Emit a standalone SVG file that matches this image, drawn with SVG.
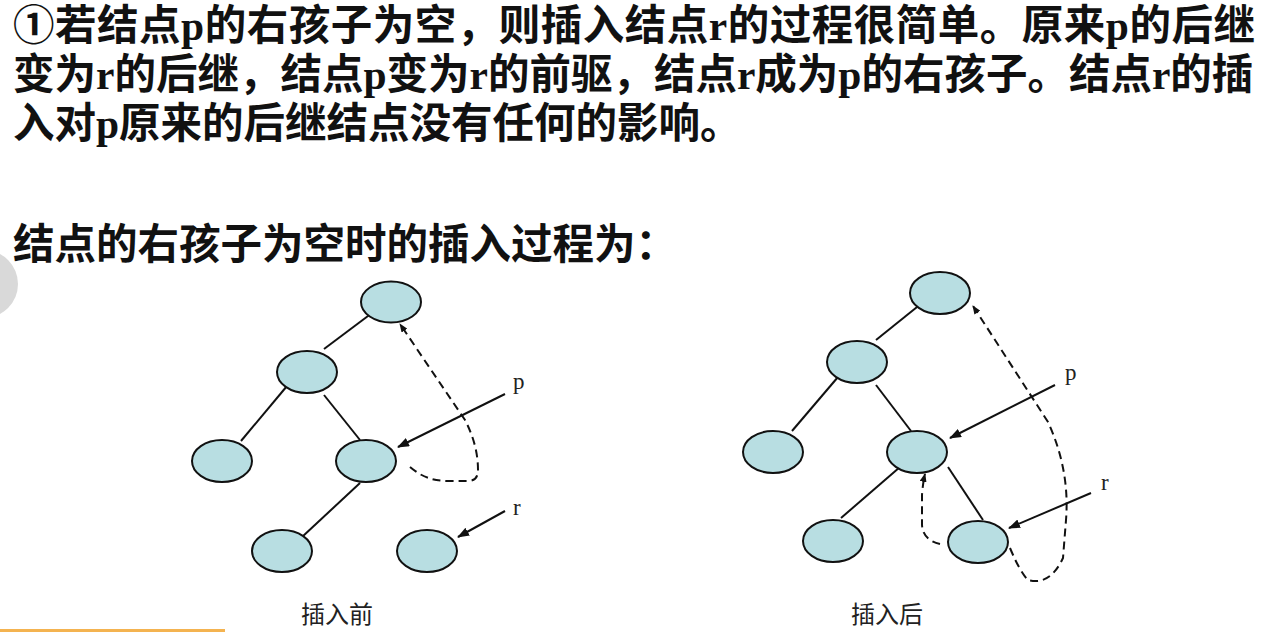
<svg xmlns="http://www.w3.org/2000/svg" width="1275" height="632" viewBox="0 0 1275 632">
<defs>
<style>
.title{font-family:"Liberation Serif","Noto Sans CJK SC",serif;font-weight:bold;font-size:41.5px;fill:#111}
.cap{font-family:"Noto Sans CJK SC","Noto Sans CJK SC",sans-serif;font-size:24px;fill:#222}
.lbl{font-family:"Liberation Serif",serif;font-size:23px;fill:#222}
.node{fill:#b8dee2;stroke:#111;stroke-width:2}
.edge{stroke:#111;stroke-width:2;fill:none}
.ptr{stroke:#111;stroke-width:2;fill:none;marker-end:url(#ah)}
.thr{stroke:#111;stroke-width:2;fill:none;stroke-dasharray:8 5;marker-end:url(#ahs)}
</style>
<marker id="ah" markerUnits="userSpaceOnUse" markerWidth="12" markerHeight="9" refX="11" refY="4.5" orient="auto">
<path d="M0,0 L12,4.5 L0,9 z" fill="#111"/>
</marker>
<marker id="ahs" markerUnits="userSpaceOnUse" markerWidth="9" markerHeight="7" refX="8" refY="3.5" orient="auto">
<path d="M0,0 L9,3.5 L0,7 z" fill="#111"/>
</marker>
</defs>
<rect width="1275" height="632" fill="#ffffff"/>
<circle cx="-16" cy="284" r="34" fill="#d9d9d9"/>
<line x1="0" y1="630.5" x2="225" y2="630.5" stroke="#f4b350" stroke-width="3"/>
<g id="text">
<text class="title" x="13" y="40" textLength="1242" lengthAdjust="spacing">①若结点p的右孩子为空，则插入结点r的过程很简单。原来p的后继</text>
<text class="title" x="13" y="89">变为r的后继，结点p变为r的前驱，结点r成为p的右孩子。结点r的插</text>
<text class="title" x="13" y="138">入对p原来的后继结点没有任何的影响。</text>
<text class="title" x="13" y="259">结点的右孩子为空时的插入过程为：</text>
</g>
<g id="connectors">
<line class="edge" x1="372" y1="313" x2="324" y2="349"/>
<line class="edge" x1="287" y1="386" x2="241" y2="441"/>
<line class="edge" x1="324" y1="395" x2="360" y2="440"/>
<line class="edge" x1="360" y1="483" x2="302" y2="537"/>
<line class="ptr" x1="505" y1="394" x2="398" y2="447"/>
<line class="ptr" x1="505" y1="511" x2="458" y2="537"/>
<path class="thr" d="M410,467 C422,477 432,481 450,481 L468,481 Q478,481 478,470 Q478,445 465,420 L400,324"/>
<line class="edge" x1="922" y1="303" x2="876" y2="340"/>
<line class="edge" x1="838" y1="377" x2="792" y2="431"/>
<line class="edge" x1="876" y1="385" x2="911" y2="431"/>
<line class="edge" x1="900" y1="467" x2="841" y2="518"/>
<line class="edge" x1="948" y1="467" x2="983" y2="520"/>
<line class="ptr" x1="1055" y1="385" x2="950" y2="438"/>
<line class="ptr" x1="1091" y1="493" x2="1009" y2="528"/>
<path class="thr" d="M940,544 Q923,540 922,525 L922,495 Q923,482 925,474"/>
<path class="thr" d="M1010,548 Q1020,572 1028,580 Q1050,586 1063,558 L1066,520 Q1070,470 1048,422 L973,306"/>
</g>
<g id="before-root"><ellipse class="node" cx="391" cy="302" rx="30" ry="20.5"/></g>
<g id="before-l2"><ellipse class="node" cx="307" cy="372" rx="30" ry="21"/></g>
<g id="before-leaf"><ellipse class="node" cx="222" cy="461" rx="30" ry="21"/></g>
<g id="before-p"><ellipse class="node" cx="366" cy="461" rx="30" ry="21"/></g>
<g id="before-bl"><ellipse class="node" cx="282" cy="551" rx="30" ry="21"/></g>
<g id="before-r"><ellipse class="node" cx="427" cy="551" rx="30" ry="21"/></g>
<g id="after-root"><ellipse class="node" cx="940" cy="293" rx="30" ry="21"/></g>
<g id="after-l2"><ellipse class="node" cx="857" cy="362" rx="30" ry="21"/></g>
<g id="after-leaf"><ellipse class="node" cx="773" cy="452" rx="30" ry="21"/></g>
<g id="after-p"><ellipse class="node" cx="917" cy="452" rx="30" ry="21"/></g>
<g id="after-bl"><ellipse class="node" cx="833" cy="541" rx="30" ry="21"/></g>
<g id="after-r"><ellipse class="node" cx="978" cy="542" rx="30" ry="21"/></g>
<g id="labels">
<text class="lbl" x="513" y="389">p</text>
<text class="lbl" x="513" y="515">r</text>
<text class="lbl" x="1065" y="380">p</text>
<text class="lbl" x="1101" y="490">r</text>
<text class="cap" x="301" y="623">插入前</text>
<text class="cap" x="851" y="623">插入后</text>
</g>
</svg>
